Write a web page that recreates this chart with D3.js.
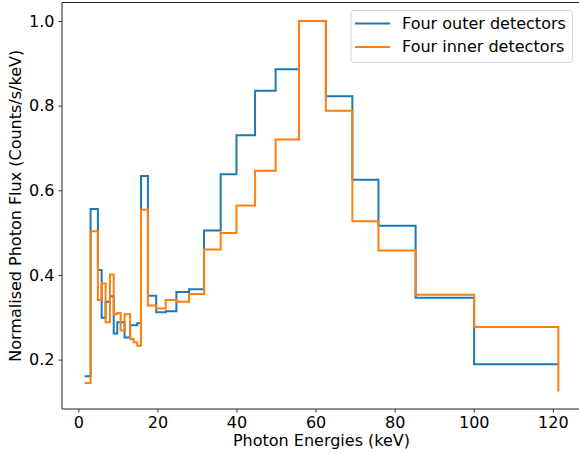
<!DOCTYPE html>
<html>
<head>
<meta charset="utf-8">
<script src="https://cdn.jsdelivr.net/npm/d3@7"></script>
<style>
  body { margin: 0; background: #fff; overflow: hidden; }
  text { font-family: "DejaVu Sans", sans-serif; fill: #000; }
</style>
</head>
<body>
<script>
var svgWidth = 579;
var svgHeight = 454;

// energy bin edges (keV), step is drawn "post" so the last value is the end point
var edges = [1.85, 3.1, 4.95, 5.9, 6.9, 8.0, 8.95, 9.85, 10.7, 11.7, 13.1, 14.0, 14.9, 15.85,
    17.6, 19.7, 22.1, 24.8, 28.0, 31.8, 36.0, 40.0, 44.7, 49.9, 55.8, 62.6, 69.3, 75.9,
    85.3, 100.1, 121.4];

var outerFlux = [0.161, 0.556, 0.412, 0.299, 0.337, 0.350, 0.262, 0.288, 0.288, 0.252, 0.281,
    0.281, 0.286, 0.634, 0.351, 0.312, 0.314, 0.360, 0.366, 0.505, 0.638, 0.730, 0.835,
    0.886, 1.0, 0.822, 0.625, 0.516, 0.346, 0.189, 0.189];

var innerFlux = [0.145, 0.503, 0.341, 0.380, 0.288, 0.401, 0.307, 0.310, 0.269, 0.307, 0.249,
    0.241, 0.233, 0.554, 0.328, 0.321, 0.341, 0.337, 0.355, 0.460, 0.499, 0.564, 0.646,
    0.720, 1.0, 0.788, 0.527, 0.458, 0.353, 0.277, 0.127];

var seriesNames = ["Four outer detectors", "Four inner detectors"];
var seriesColors = ["#1f77b4", "#ff7f0e"];
var xTicks = [0, 20, 40, 60, 80, 100, 120];
var yTicks = [0.2, 0.4, 0.6, 0.8, 1.0];

var margin = { top: 2.5, right: -3, bottom: 45, left: 62 };
var chartWidth = svgWidth - margin.left - margin.right;
var chartHeight = svgHeight - margin.top - margin.bottom;

var svg = d3.select("body")
    .append("svg")
    .attr("width", svgWidth)
    .attr("height", svgHeight)
    .style("display", "block");

var chartGroup = svg.append("g")
    .attr("transform", `translate(${margin.left}, ${margin.top})`);

// matplotlib style 5% padding on data limits
var xMin = d3.min(edges), xMax = d3.max(edges);
var xPad = (xMax - xMin) * 0.05;
var allY = outerFlux.concat(innerFlux);
var yMin = d3.min(allY), yMax = d3.max(allY);
var yPad = (yMax - yMin) * 0.05;

var xScale = d3.scaleLinear()
    .domain([xMin - xPad, xMax + xPad])
    .range([0, chartWidth]);

var yScale = d3.scaleLinear()
    .domain([yMin - yPad, yMax + yPad])
    .range([chartHeight, 0]);

var bottomAxis = d3.axisBottom(xScale).tickValues(xTicks).tickSize(3.5).tickPadding(4)
    .tickFormat(d3.format("d"));
var leftAxis = d3.axisLeft(yScale).tickValues(yTicks).tickSize(3.5).tickPadding(4)
    .tickFormat(d3.format(".1f"));

var xAxisG = chartGroup.append("g")
    .attr("transform", `translate(0, ${chartHeight})`)
    .call(bottomAxis);
var yAxisG = chartGroup.append("g")
    .call(leftAxis);

[xAxisG, yAxisG].forEach(function(g) {
    g.select(".domain").remove();
    g.selectAll("line").attr("stroke", "#333");
    g.selectAll("text").style("font-size", "16px").style("font-family", "DejaVu Sans");
});

// spines (right one falls outside the picture)
chartGroup.append("path")
    .attr("d", `M${chartWidth},0H0V${chartHeight}H${chartWidth}`)
    .attr("fill", "none")
    .attr("stroke", "#222")
    .attr("stroke-width", 1);

var line = d3.line()
    .x(d => xScale(d[0]))
    .y(d => yScale(d[1]))
    .curve(d3.curveStepAfter);

[outerFlux, innerFlux].forEach(function(vals, i) {
    var pts = edges.map((e, j) => [e, vals[j]]);
    chartGroup.append("path")
        .datum(pts)
        .attr("d", line)
        .attr("fill", "none")
        .attr("stroke", seriesColors[i])
        .attr("stroke-width", 2)
        .attr("stroke-linejoin", "miter")
        .attr("stroke-linecap", "square");
});

// axis labels
chartGroup.append("text")
    .attr("transform", "rotate(-90)")
    .attr("x", 0 - (chartHeight / 2))
    .attr("y", 16 - margin.left + 5)
    .attr("text-anchor", "middle")
    .style("font-size", "16px")
    .text("Normalised Photon Flux (Counts/s/keV)");

svg.append("text")
    .attr("x", 321.5)
    .attr("y", 446)
    .attr("text-anchor", "middle")
    .style("font-size", "16px")
    .text("Photon Energies (keV)");

// legend
var legend = svg.append("g").attr("transform", "translate(351, 10.5)");
legend.append("rect")
    .attr("width", 221.5)
    .attr("height", 52)
    .attr("rx", 3)
    .attr("fill", "#fff")
    .attr("fill-opacity", 0.8)
    .attr("stroke", "#d5d5d5");

seriesNames.forEach(function(name, i) {
    var ly = 13 + i * 23.4;
    legend.append("line")
        .attr("x1", 4)
        .attr("x2", 39)
        .attr("y1", ly)
        .attr("y2", ly)
        .attr("stroke", seriesColors[i])
        .attr("stroke-width", 2);
    legend.append("text")
        .attr("x", 51)
        .attr("y", ly + 5.5)
        .style("font-size", "16px")
        .text(name);
});
</script>
</body>
</html>
